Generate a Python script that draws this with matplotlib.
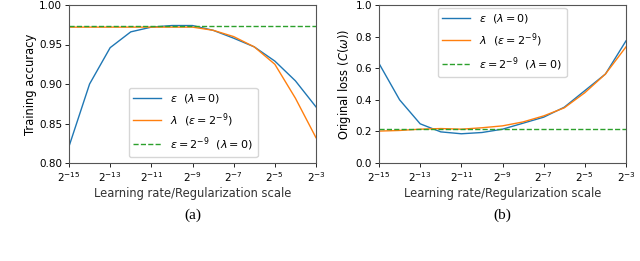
import matplotlib
matplotlib.use("Agg")
import matplotlib.pyplot as plt
import numpy as np

exponents = [-15, -14, -13, -12, -11, -10, -9, -8, -7, -6, -5, -4, -3]
x = [2.0 ** e for e in exponents]

acc_eps = [0.821, 0.900, 0.946, 0.966, 0.972, 0.974, 0.974, 0.968, 0.958, 0.947, 0.929, 0.904, 0.871]
acc_lam = [0.972, 0.972, 0.972, 0.972, 0.972, 0.972, 0.972, 0.968, 0.960, 0.947, 0.925, 0.882, 0.832]
acc_base = 0.974

loss_eps = [0.630, 0.400, 0.248, 0.197, 0.185, 0.193, 0.214, 0.252, 0.290, 0.353, 0.458, 0.563, 0.773]
loss_lam = [0.202, 0.206, 0.214, 0.218, 0.214, 0.223, 0.235, 0.260, 0.298, 0.349, 0.445, 0.563, 0.735]
loss_base = 0.214

xticks_exp = [-15, -13, -11, -9, -7, -5, -3]

labels = [r'$\varepsilon\ \ (\lambda=0)$', r'$\lambda\ \ (\varepsilon=2^{-9})$',
          r'$\varepsilon=2^{-9}\ \ (\lambda=0)$']

fig = plt.figure(figsize=(6.4, 2.61), dpi=100)
ax1 = fig.add_axes([69/640, 1-163/261, (316-69)/640, (163-5)/261])
ax2 = fig.add_axes([379/640, 1-163/261, (626-379)/640, (163-5)/261])

fs = 7.5
for ax, ye, yl, yb in [(ax1, acc_eps, acc_lam, acc_base), (ax2, loss_eps, loss_lam, loss_base)]:
    ax.plot(x, ye, color='tab:blue', lw=1.0, label=labels[0])
    ax.plot(x, yl, color='tab:orange', lw=1.0, label=labels[1])
    ax.axhline(yb, color='tab:green', lw=1.0, ls='--', label=labels[2])
    ax.set_xscale('log', base=2)
    ax.set_xlim(2.0**-15, 2.0**-3)
    ax.set_xticks([2.0**e for e in xticks_exp])
    ax.set_xticklabels([r'$2^{%d}$' % e for e in xticks_exp])
    ax.xaxis.set_minor_locator(matplotlib.ticker.NullLocator())
    ax.tick_params(labelsize=fs, length=3, width=0.6, pad=2)
    ax.set_xlabel('Learning rate/Regularization scale', fontsize=8.3, color='#333333', labelpad=2.5)
    for s in ax.spines.values():
        s.set_linewidth(0.8)
        s.set_color('#555555')

ax1.set_ylim(0.80, 1.00)
ax1.set_yticks([0.80, 0.85, 0.90, 0.95, 1.00])
ax1.set_yticklabels(['0.80', '0.85', '0.90', '0.95', '1.00'])
ax1.set_ylabel('Training accuracy', fontsize=8.3, labelpad=1.5)
ax1.legend(fontsize=8.0, loc='lower left', bbox_to_anchor=(0.243, 0.038), borderaxespad=0,
           frameon=True, handlelength=2.5, labelspacing=0.55)

ax2.set_ylim(0.0, 1.0)
ax2.set_yticks([0.0, 0.2, 0.4, 0.6, 0.8, 1.0])
ax2.set_ylabel(r'Original loss ($C(\omega)$)', fontsize=8.3, labelpad=1.5)
ax2.legend(fontsize=8.0, loc='upper left', bbox_to_anchor=(0.239, 0.981), borderaxespad=0,
           frameon=True, handlelength=2.5, labelspacing=0.55)

fig.text((69+316)/2/640, 1-215/261, '(a)', ha='center', va='center', fontsize=11, family='Liberation Serif')
fig.text((379+626)/2/640, 1-215/261, '(b)', ha='center', va='center', fontsize=11, family='Liberation Serif')

fig.savefig('out.png', dpi=100)
